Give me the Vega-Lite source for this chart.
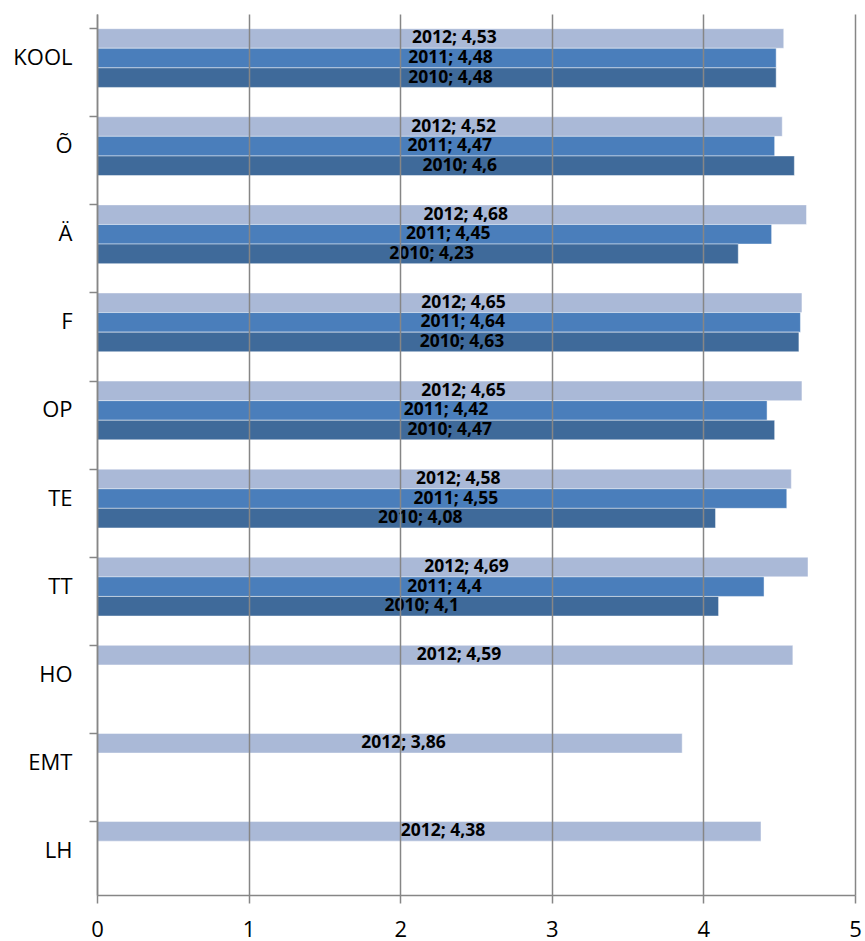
{
  "$schema": "https://vega.github.io/schema/vega-lite/v6.json",
  "width": 758,
  "height": 881,
  "autosize": {"type": "none"},
  "padding": {"left": 97, "top": 14, "right": 10, "bottom": 46},
  "background": "white",
  "config": {"view": {"stroke": null}, "font": "Open Sans"},
  "data": {
    "values": [
      {"cat": "KOOL", "year": "2012", "v": 4.53},
      {"cat": "KOOL", "year": "2011", "v": 4.48},
      {"cat": "KOOL", "year": "2010", "v": 4.48},
      {"cat": "Õ", "year": "2012", "v": 4.52},
      {"cat": "Õ", "year": "2011", "v": 4.47},
      {"cat": "Õ", "year": "2010", "v": 4.6},
      {"cat": "Ä", "year": "2012", "v": 4.68},
      {"cat": "Ä", "year": "2011", "v": 4.45},
      {"cat": "Ä", "year": "2010", "v": 4.23},
      {"cat": "F", "year": "2012", "v": 4.65},
      {"cat": "F", "year": "2011", "v": 4.64},
      {"cat": "F", "year": "2010", "v": 4.63},
      {"cat": "OP", "year": "2012", "v": 4.65},
      {"cat": "OP", "year": "2011", "v": 4.42},
      {"cat": "OP", "year": "2010", "v": 4.47},
      {"cat": "TE", "year": "2012", "v": 4.58},
      {"cat": "TE", "year": "2011", "v": 4.55},
      {"cat": "TE", "year": "2010", "v": 4.08},
      {"cat": "TT", "year": "2012", "v": 4.69},
      {"cat": "TT", "year": "2011", "v": 4.4},
      {"cat": "TT", "year": "2010", "v": 4.1},
      {"cat": "HO", "year": "2012", "v": 4.59},
      {"cat": "EMT", "year": "2012", "v": 3.86},
      {"cat": "LH", "year": "2012", "v": 4.38}
    ]
  },
  "encoding": {
    "y": {
      "field": "cat",
      "type": "nominal",
      "sort": ["KOOL", "Õ", "Ä", "F", "OP", "TE", "TT", "HO", "EMT", "LH"],
      "scale": {"paddingInner": 0.333, "paddingOuter": 0.1667},
      "axis": {
        "title": null,
        "bandPosition": 0,
        "tickSize": 8,
        "tickColor": "#868686",
        "tickWidth": 1.5,
        "domainColor": "#868686",
        "domainWidth": 1.5,
        "labelPadding": 17,
        "labelFontSize": 22,
        "labelColor": "black",
        "labelFont": "Open Sans",
        "grid": false,
        "zindex": 1
      }
    },
    "yOffset": {
      "field": "year",
      "type": "nominal",
      "scale": {"domain": ["2012", "2011", "2010"], "paddingInner": 0, "paddingOuter": 0}
    }
  },
  "layer": [
    {
      "mark": {"type": "bar", "stroke": "white", "strokeOpacity": 0.45, "strokeWidth": 1},
      "encoding": {
        "x": {
          "field": "v",
          "type": "quantitative",
          "scale": {"domain": [0, 5], "nice": false},
          "axis": {
            "title": null,
            "values": [0, 1, 2, 3, 4, 5],
            "format": "d",
            "grid": true,
            "gridColor": "#868686",
            "gridWidth": 1.5,
            "domainColor": "#868686",
            "domainWidth": 1.5,
            "tickColor": "#868686",
            "tickWidth": 1.5,
            "tickSize": 8,
            "labelFontSize": 22,
            "labelColor": "black",
            "labelFont": "Open Sans",
            "labelPadding": 16,
            "labelFlush": false,
            "zindex": 1
          }
        },
        "color": {
          "field": "year",
          "type": "nominal",
          "scale": {"domain": ["2012", "2011", "2010"], "range": ["#AAB9D7", "#4A7EBB", "#3F6A9A"]},
          "legend": null
        }
      }
    },
    {
      "transform": [
        {"calculate": "datum.v / 2", "as": "mid"},
        {"calculate": "datum.year + '; ' + replace(toString(datum.v), '.', ',')", "as": "lab"}
      ],
      "mark": {"type": "text", "fontWeight": "bold", "fontSize": 17.5, "dx": 14, "color": "black", "font": "Open Sans"},
      "encoding": {
        "x": {"field": "mid", "type": "quantitative"},
        "text": {"field": "lab", "type": "nominal"}
      }
    }
  ]
}
